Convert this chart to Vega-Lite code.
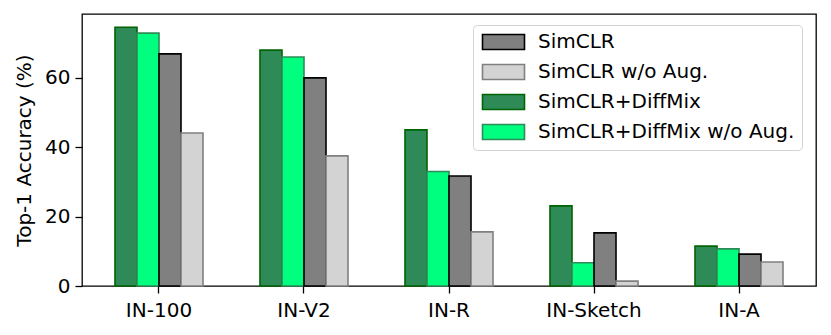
{
  "$schema": "https://vega.github.io/schema/vega-lite/v6.json",
  "autosize": {"type": "none"},
  "padding": {"left": 82, "top": 14, "right": 15, "bottom": 49},
  "width": 734,
  "height": 272,
  "background": "white",
  "data": {
    "values": [
      {"dataset": "IN-100", "method": "SimCLR+DiffMix", "acc": 74.6},
      {"dataset": "IN-100", "method": "SimCLR+DiffMix w/o Aug.", "acc": 72.9},
      {"dataset": "IN-100", "method": "SimCLR", "acc": 66.9},
      {"dataset": "IN-100", "method": "SimCLR w/o Aug.", "acc": 44.1},
      {"dataset": "IN-V2", "method": "SimCLR+DiffMix", "acc": 68.0},
      {"dataset": "IN-V2", "method": "SimCLR+DiffMix w/o Aug.", "acc": 66.0},
      {"dataset": "IN-V2", "method": "SimCLR", "acc": 60.0},
      {"dataset": "IN-V2", "method": "SimCLR w/o Aug.", "acc": 37.5},
      {"dataset": "IN-R", "method": "SimCLR+DiffMix", "acc": 45.0},
      {"dataset": "IN-R", "method": "SimCLR+DiffMix w/o Aug.", "acc": 33.0},
      {"dataset": "IN-R", "method": "SimCLR", "acc": 31.7},
      {"dataset": "IN-R", "method": "SimCLR w/o Aug.", "acc": 15.6},
      {"dataset": "IN-Sketch", "method": "SimCLR+DiffMix", "acc": 23.1},
      {"dataset": "IN-Sketch", "method": "SimCLR+DiffMix w/o Aug.", "acc": 6.7},
      {"dataset": "IN-Sketch", "method": "SimCLR", "acc": 15.3},
      {"dataset": "IN-Sketch", "method": "SimCLR w/o Aug.", "acc": 1.4},
      {"dataset": "IN-A", "method": "SimCLR+DiffMix", "acc": 11.5},
      {"dataset": "IN-A", "method": "SimCLR+DiffMix w/o Aug.", "acc": 10.7},
      {"dataset": "IN-A", "method": "SimCLR", "acc": 9.2},
      {"dataset": "IN-A", "method": "SimCLR w/o Aug.", "acc": 6.9}
    ]
  },
  "mark": {"type": "bar", "strokeWidth": 1.6, "fillOpacity": 1},
  "encoding": {
    "x": {
      "field": "dataset",
      "type": "nominal",
      "sort": ["IN-100", "IN-V2", "IN-R", "IN-Sketch", "IN-A"],
      "scale": {"paddingInner": 0.393, "paddingOuter": 0.2275},
      "axis": {
        "title": null,
        "labelAngle": 0,
        "labelFontSize": 20,
        "labelFont": "DejaVu Sans",
        "labelColor": "black",
        "labelPadding": 7,
        "tickSize": 7,
        "tickColor": "black",
        "tickWidth": 1.3,
        "domain": false
      }
    },
    "xOffset": {
      "field": "method",
      "type": "nominal",
      "sort": ["SimCLR+DiffMix", "SimCLR+DiffMix w/o Aug.", "SimCLR", "SimCLR w/o Aug."],
      "scale": {"paddingInner": 0, "paddingOuter": 0}
    },
    "y": {
      "field": "acc",
      "type": "quantitative",
      "scale": {"domain": [0, 78.4], "nice": false, "zero": true},
      "axis": {
        "title": "Top-1 Accuracy (%)",
        "titleFontSize": 20,
        "titleFont": "DejaVu Sans",
        "titleFontWeight": "normal",
        "titleColor": "black",
        "titlePadding": 10,
        "values": [0, 20, 40, 60],
        "grid": false,
        "labelFontSize": 20,
        "labelFont": "DejaVu Sans",
        "labelColor": "black",
        "labelPadding": 5,
        "tickSize": 7,
        "tickColor": "black",
        "tickWidth": 1.3,
        "domain": false
      }
    },
    "fill": {
      "field": "method",
      "type": "nominal",
      "scale": {
        "domain": ["SimCLR", "SimCLR w/o Aug.", "SimCLR+DiffMix", "SimCLR+DiffMix w/o Aug."],
        "range": ["#808080", "#d3d3d3", "#2e8b57", "#00ff7f"]
      },
      "legend": {
        "title": null,
        "orient": "none",
        "legendX": 391,
        "legendY": 11,
        "padding": 7,
        "strokeColor": "#d3d3d3",
        "fillColor": "rgba(255,255,255,0.85)",
        "cornerRadius": 4,
        "symbolType": "M-1,-1H4.6V1H-1Z",
        "symbolSize": 225,
        "symbolStrokeWidth": 1.6,
        "labelFontSize": 20,
        "labelFont": "DejaVu Sans",
        "labelFontWeight": "normal",
        "labelColor": "black",
        "labelOffset": 38,
        "rowPadding": 8,
        "labelLimit": 400
      }
    },
    "stroke": {
      "field": "method",
      "type": "nominal",
      "scale": {
        "domain": ["SimCLR", "SimCLR w/o Aug.", "SimCLR+DiffMix", "SimCLR+DiffMix w/o Aug."],
        "range": ["#000000", "#808080", "#006400", "#2e8b57"]
      },
      "legend": null
    }
  },
  "config": {
    "view": {"stroke": "black", "strokeWidth": 1.3},
    "font": "DejaVu Sans"
  }
}
